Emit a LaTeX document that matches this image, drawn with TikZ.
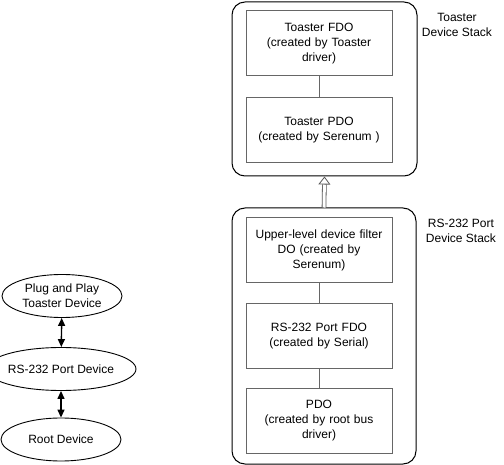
\documentclass[tikz,border=0pt]{standalone}
\usepackage{fontspec}
\setmainfont{Liberation Sans}
\usetikzlibrary{arrows.meta,shapes.geometric}

\begin{document}
\begin{tikzpicture}[x=1pt,y=-1pt,
    font=\fontsize{12}{15}\selectfont,
    obj/.style={draw=black!60, line width=1pt, minimum width=146pt, minimum height=65pt,
      text width=140pt, align=center, inner sep=0pt},
    stack/.style={draw, line width=1pt, rounded corners=13pt, inner sep=0pt},
    dev/.style={draw, line width=0.9pt, ellipse, minimum width=120pt, minimum height=43pt,
      align=center, inner sep=0pt},
    link/.style={draw=black!60, line width=1pt},
    pnp/.style={{Triangle[length=8pt,width=7pt]}-{Triangle[length=8pt,width=7pt]}, line width=1.4pt}
  ]
    \useasboundingbox (0,0) rectangle (504,465);

    % device stacks
    \node[stack, minimum width=185pt, minimum height=174pt] (toaster-stack) at (324.5,89) {};
    \node[stack, minimum width=184pt, minimum height=256pt] (rs-stack) at (324,336) {};

    \node[obj] (toaster-fdo) at (319,43.5) {Toaster FDO\\(created by Toaster\\driver)};
    \node[obj] (toaster-pdo) at (319,130.5) {Toaster PDO\\(created by Serenum )};
    \node[obj] (filter-do) at (319,250.5) {Upper-level device filter\\DO (created by\\Serenum)};
    \node[obj] (rs-fdo) at (319,336.5) {RS-232 Port FDO\\(created by Serial)};
    \node[obj] (root-pdo) at (319,421) {PDO\\(created by root bus\\driver)};

    \node[align=center] (toaster-label) at (457,25) {Toaster\\Device Stack};
    \node[align=center] (rs-label) at (461,231) {RS-232 Port\\Device Stack};

    \draw[link] (toaster-fdo) -- (toaster-pdo);
    \draw[link] (filter-do) -- (rs-fdo);
    \draw[link] (rs-fdo) -- (root-pdo);
    \draw[draw=black!65, line width=0.8pt, double, double distance=3pt,
      -{Triangle[open,length=8pt,width=12pt]}]
      (rs-stack.north) -- (toaster-stack.south);

    % PnP device tree
    \node[dev] (pnp-dev) at (62,296) {Plug and Play\\Toaster Device};
    \node[dev] (port-dev) at (61,369) {RS-232 Port Device};
    \node[dev] (root-dev) at (61,439.5) {Root Device};

    \draw[pnp] (pnp-dev) -- (port-dev);
    \draw[pnp] (port-dev) -- (root-dev);

  \end{tikzpicture}
\end{document}
